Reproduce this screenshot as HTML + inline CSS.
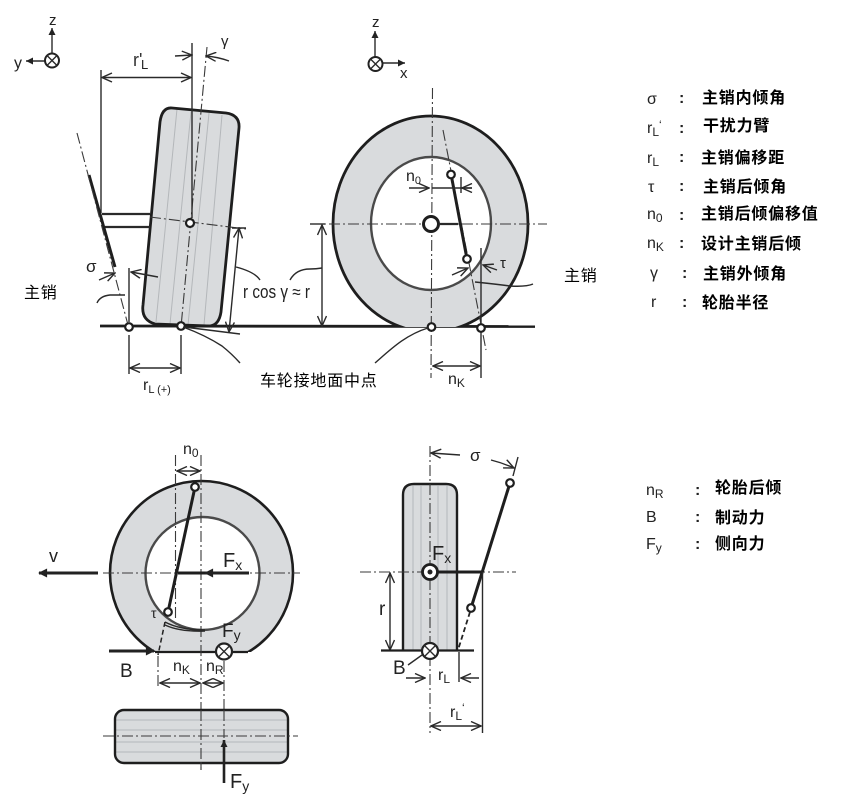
<!DOCTYPE html>
<html><head><meta charset="utf-8"><style>
html,body{margin:0;padding:0;background:#fff}
svg{display:block;filter:blur(0.35px)}
.d{fill:none;stroke:#2a2a2a;stroke-width:1.4}
.t{fill:none;stroke:#1e1e1e;stroke-width:3}
.m{fill:none;stroke:#2a2a2a;stroke-width:2.2}
.dd{fill:none;stroke:#3a3a3a;stroke-width:1.1;stroke-dasharray:11 3 2 3}
.g{fill:none;stroke:#b4b7ba;stroke-width:1}
.o{fill:#fff;stroke:#1e1e1e;stroke-width:2.2}
text{font-family:"Liberation Sans",sans-serif;fill:#222}
.c{font-family:"Liberation Sans","Noto Sans CJK SC",sans-serif;font-size:16px;letter-spacing:0.8px;fill:#000}
.b{font-family:"Liberation Sans","Noto Sans CJK SC",sans-serif;font-size:16px;letter-spacing:0.8px;font-weight:700;fill:#000}
.l{font-size:18px;fill:#333}
.s{font-size:12px}
</style></head><body>
<svg width="865" height="807" viewBox="0 0 865 807" xmlns="http://www.w3.org/2000/svg">
<defs>
<marker id="a" viewBox="0 0 10 10" refX="10" refY="5" markerWidth="12" markerHeight="10" markerUnits="userSpaceOnUse" orient="auto-start-reverse"><path d="M0 0.5L10 5L0 9.5" fill="none" stroke="#2a2a2a" stroke-width="1.4"/></marker>
<marker id="f" viewBox="0 0 10 10" refX="10" refY="5" markerWidth="7" markerHeight="7" markerUnits="userSpaceOnUse" orient="auto"><path d="M0 0L10 5L0 10Z" fill="#222"/></marker>
<marker id="h" viewBox="0 0 10 10" refX="9" refY="5" markerWidth="11" markerHeight="9" markerUnits="userSpaceOnUse" orient="auto"><path d="M0 0L10 5L0 10Z" fill="#222"/></marker>
<clipPath id="c1"><rect x="300" y="100" width="260" height="227"/></clipPath>
<clipPath id="c2"><rect x="90" y="470" width="230" height="182"/></clipPath>
</defs>

<!-- top-left axes -->
<line class="d" x1="52" y1="53" x2="52" y2="28" marker-end="url(#f)"/>
<line class="d" x1="45" y1="61" x2="26" y2="61" marker-end="url(#f)"/>
<circle cx="52" cy="60.500" r="7" fill="#fff" stroke="#222" stroke-width="2"/>
<path class="d" d="M47 55.500L57 65.500M57 55.500L47 65.500"/>
<text x="49" y="25" font-size="15">z</text>
<text x="14" y="68" font-size="16">y</text>

<!-- top-left tyre -->
<path d="M172 108L226 113Q240 115 239 128L221 312Q219 325 210 326L155 324Q141 320 143 305L160 122Q162 107 172 108Z" fill="#d9dbdd"/>
<path class="g" d="M177 109L156 322M191 112L170 324M209 113L188 325M222 115L204 325"/>
<path d="M172 108L226 113Q240 115 239 128L221 312Q219 325 210 326L155 324Q141 320 143 305L160 122Q162 107 172 108Z" fill="none" stroke="#1e1e1e" stroke-width="2.8"/>
<line class="dd" x1="207" y1="47" x2="181" y2="327"/>
<line class="dd" x1="150" y1="217" x2="246" y2="229"/>
<path class="d" d="M192 43V218M101 70V213"/>
<line class="d" x1="102" y1="77.500" x2="191" y2="77.500" marker-start="url(#a)" marker-end="url(#a)"/>
<line class="d" x1="175" y1="56" x2="192" y2="55" marker-end="url(#a)"/>
<path class="d" d="M229 61Q218 57 206 56" marker-end="url(#a)"/>
<text x="133" y="66" class="l">r'</text>
<text x="141" y="69" font-size="13" fill="#333">L</text>
<text x="221" y="46" font-size="15" fill="#333">γ</text>
<path class="m" d="M102 214H150M105 227H150"/>
<line class="t" x1="89" y1="175" x2="115" y2="267"/>
<line class="dd" x1="77" y1="133" x2="128" y2="325"/>
<line class="d" x1="129" y1="268" x2="129" y2="322"/>
<line class="d" x1="158" y1="277" x2="131" y2="272" marker-end="url(#a)"/>
<text x="86" y="272" font-size="17" fill="#333">σ</text>
<line class="d" x1="99" y1="280" x2="115" y2="273" marker-end="url(#a)"/>
<path class="d" d="M97 303Q100 296 110 295Q118 295 125 295"/>
<line x1="100" y1="326" x2="535" y2="326.500" stroke="#1e1e1e" stroke-width="2.800"/>
<circle cx="129" cy="327" r="3.800" class="o"/><circle cx="181" cy="326" r="3.800" class="o"/>
<circle cx="190" cy="223" r="4" class="o"/>
<path class="d" d="M129 335V374M181 335V374"/>
<line class="d" x1="130" y1="368" x2="180" y2="368" marker-start="url(#a)" marker-end="url(#a)"/>
<text x="143" y="390" font-size="16">r<tspan dy="3" font-size="11">L (+)</tspan></text>
<line class="d" x1="239" y1="228" x2="229" y2="332" marker-start="url(#a)" marker-end="url(#a)"/>
<path class="d" d="M184 327L240 334M232 228H246"/>
<path class="d" d="M236 267Q255 272 260 280M290 280Q296 269 310 269Q316 269 322 268M183 327Q205 335 222 346Q232 354 240 363"/>
<text x="243" y="298" font-size="18" textLength="67" lengthAdjust="spacingAndGlyphs" fill="#333">r cos γ ≈ r</text>

<!-- top-right axes -->
<line class="d" x1="375" y1="57" x2="375" y2="31" marker-end="url(#f)"/>
<line class="d" x1="383" y1="63" x2="405" y2="63" marker-end="url(#f)"/>
<circle cx="375.500" cy="64" r="7" fill="#fff" stroke="#222" stroke-width="2"/>
<path class="d" d="M370.500 59L380.500 69M380.500 59L370.500 69"/>
<text x="372" y="27" font-size="15">z</text>
<text x="400" y="78" font-size="15">x</text>

<!-- top-right wheel -->
<g clip-path="url(#c1)"><ellipse cx="430.500" cy="224" rx="97.500" ry="108" fill="#d9dbdd" stroke="#1e1e1e" stroke-width="2.8"/></g>
<ellipse cx="431" cy="223.500" rx="60" ry="66.500" fill="#fff" stroke="#4a4a4a" stroke-width="2.4"/>
<line class="dd" x1="432.500" y1="88" x2="431" y2="378"/>
<line class="dd" x1="310" y1="224" x2="547" y2="224"/>
<line class="dd" x1="443" y1="130" x2="486" y2="350"/>
<circle cx="431" cy="224" r="7.500" fill="#fff" stroke="#1e1e1e" stroke-width="3"/>
<path class="m" d="M439 224H458" stroke-width="2.400"/>
<line class="t" x1="451" y1="174" x2="467" y2="259"/>
<circle cx="451" cy="174.500" r="3.800" class="o"/><circle cx="467" cy="259" r="3.800" class="o"/>
<path class="d" d="M461 177V193"/>
<line class="d" x1="409" y1="188" x2="429" y2="188" marker-end="url(#a)"/>
<line class="d" x1="432" y1="188" x2="472" y2="188"/>
<line class="d" x1="472" y1="188" x2="462" y2="188" marker-end="url(#a)"/>
<text x="406" y="181" font-size="16" fill="#333">n<tspan dy="3" font-size="11">0</tspan></text>
<path class="d" d="M481 248V378"/>
<line class="d" x1="452" y1="275" x2="468" y2="268" marker-end="url(#a)"/>
<line class="d" x1="497" y1="270" x2="483" y2="265" marker-end="url(#a)"/>
<text x="500" y="268" font-size="15" fill="#333">τ</text>
<path class="d" d="M475 282Q495 284 510 286Q526 287 533 284"/>
<circle cx="431.500" cy="327" r="3.800" class="o"/><circle cx="481" cy="328" r="3.800" class="o"/>
<line class="d" x1="433" y1="366" x2="480" y2="366" marker-start="url(#a)" marker-end="url(#a)"/>
<text x="448" y="384" font-size="16" fill="#333">n<tspan dy="3" font-size="12">K</tspan></text>
<path class="d" d="M310 224H325"/>
<line class="d" x1="322" y1="225" x2="322" y2="326" marker-start="url(#a)" marker-end="url(#a)"/>
<path class="d" d="M428 328C405 335 390 350 375 363"/>

<!-- Chinese labels -->
<text x="24" y="298" class="c">主销</text>
<text x="564" y="281" class="c">主销</text>
<text x="260" y="386" class="c">车轮接地面中点</text>

<!-- legend top -->
<g font-size="16">
<text x="647" y="104" fill="#444">σ</text>
<text x="647" y="133" fill="#444">r<tspan dy="3" font-size="12">L</tspan><tspan dy="-7" font-size="12">‘</tspan></text>
<text x="647" y="163" fill="#444">r<tspan dy="3" font-size="12">L</tspan></text>
<text x="648" y="192" fill="#444">τ</text>
<text x="647" y="219" fill="#444">n<tspan dy="3" font-size="12">0</tspan></text>
<text x="647" y="248" fill="#444">n<tspan dy="3" font-size="12">K</tspan></text>
<text x="650" y="278" fill="#444">γ</text>
<text x="651" y="307" fill="#444">r</text>
<g fill="#444" font-weight="700">
<text x="679" y="103">:</text><text x="679" y="133">:</text><text x="679" y="162">:</text><text x="679" y="191">:</text><text x="679" y="220">:</text><text x="679" y="248">:</text><text x="682" y="278">:</text><text x="682" y="307">:</text>
</g>
</g>
<text x="702" y="103" class="b">主销内倾角</text>
<text x="703" y="131" class="b">干扰力臂</text>
<text x="701" y="163" class="b">主销偏移距</text>
<text x="703" y="192" class="b">主销后倾角</text>
<text x="701" y="219" class="b">主销后倾偏移值</text>
<text x="701" y="249" class="b">设计主销后倾</text>
<text x="703" y="279" class="b">主销外倾角</text>
<text x="702" y="308" class="b">轮胎半径</text>

<!-- bottom-left wheel -->
<g clip-path="url(#c2)"><ellipse cx="201.500" cy="573" rx="91.500" ry="92" fill="#d9dbdd" stroke="#1e1e1e" stroke-width="2.6"/></g>
<line x1="155" y1="652" x2="248" y2="652" stroke="#1e1e1e" stroke-width="2.200"/>
<ellipse cx="202.500" cy="573.500" rx="57" ry="56.500" fill="#fff" stroke="#4a4a4a" stroke-width="2.400"/>
<line class="dd" x1="175.500" y1="455" x2="175.500" y2="620"/>
<line class="dd" x1="201" y1="455" x2="201" y2="770"/>
<line class="dd" x1="103" y1="573" x2="300" y2="573"/>
<line class="d" x1="177" y1="471" x2="200" y2="471" marker-start="url(#a)" marker-end="url(#a)"/>
<text x="183" y="454" font-size="16" fill="#333">n<tspan dy="3" font-size="12">0</tspan></text>
<line class="t" x1="195" y1="487" x2="168" y2="612"/>
<circle cx="195" cy="487" r="3.800" class="o"/><circle cx="168" cy="612" r="3.800" class="o"/>
<path class="t" d="M178 573H205"/>
<line x1="249" y1="573" x2="205" y2="573" stroke="#222" stroke-width="3" marker-end="url(#h)"/>
<line x1="98" y1="573" x2="39" y2="573" stroke="#222" stroke-width="3" marker-end="url(#h)"/>
<text x="49" y="562" font-size="18" fill="#333">v</text>
<text x="223" y="567" font-size="20" fill="#333">F<tspan dy="3" font-size="14">x</tspan></text>
<text x="151" y="618" font-size="14" fill="#333">τ</text>
<path class="d" d="M165 622Q180 630 205 630M165 625Q180 632 205 631"/>
<line x1="165" y1="622" x2="158" y2="655" stroke="#222" stroke-width="1.5" stroke-dasharray="5 3"/>
<line class="dd" x1="158" y1="656" x2="158" y2="687"/>
<line x1="109" y1="651" x2="154" y2="651" stroke="#222" stroke-width="3" marker-end="url(#h)"/>
<text x="120" y="677" font-size="19" fill="#333">B</text>
<circle cx="224" cy="651.500" r="8" fill="#fff" stroke="#222" stroke-width="2.2"/>
<path class="d" d="M218.500 646L229.500 657M229.500 646L218.500 657"/>
<text x="222" y="637" font-size="19" fill="#333">F<tspan dy="3" font-size="14">y</tspan></text>
<line class="dd" x1="224" y1="661" x2="224" y2="740"/>
<line class="d" x1="160" y1="683" x2="200" y2="683" marker-start="url(#a)" marker-end="url(#a)"/>
<line class="d" x1="203" y1="683" x2="223" y2="683" marker-start="url(#a)" marker-end="url(#a)"/>
<text x="173" y="671" font-size="16" fill="#333">n<tspan dy="3" font-size="12">K</tspan></text>
<text x="206" y="671" font-size="16" fill="#333">n<tspan dy="3" font-size="12">R</tspan></text>

<!-- lower tyre -->
<rect x="115" y="710" width="173" height="53" rx="9" fill="#d9dbdd"/>
<path class="g" d="M116 720H287M116 730H287M116 742H287M116 752H287"/>
<rect x="115" y="710" width="173" height="53" rx="9" fill="none" stroke="#1e1e1e" stroke-width="2.4"/>
<line class="dd" x1="103" y1="736" x2="298" y2="736"/>
<line x1="201" y1="710" x2="201" y2="770" class="dd"/>
<line class="dd" x1="224" y1="710" x2="224" y2="738"/>
<line x1="224" y1="783" x2="224" y2="740" stroke="#222" stroke-width="2.6" marker-end="url(#f)"/>
<text x="230" y="788" font-size="20" fill="#333">F<tspan dy="3" font-size="14">y</tspan></text>

<!-- bottom-right tyre -->
<path d="M403 650V495Q403 484 414 484H446Q457 484 457 495V650Z" fill="#d9dbdd"/>
<path class="g" d="M413 486V650M421 486V650M438 486V650M447 486V650"/>
<path d="M403 650V495Q403 484 414 484H446Q457 484 457 495V650" fill="none" stroke="#1e1e1e" stroke-width="2.400"/>
<line class="dd" x1="430" y1="446" x2="430" y2="733"/>
<line class="dd" x1="360" y1="572" x2="516" y2="572"/>
<circle cx="430" cy="572" r="7.500" fill="#fff" stroke="#1e1e1e" stroke-width="2.800"/>
<circle cx="430" cy="572" r="2.500" fill="#222"/>
<path class="t" d="M438 572H482"/>
<line class="t" x1="510" y1="483" x2="471" y2="608"/>
<circle cx="510" cy="483" r="3.800" class="o"/><circle cx="471" cy="608" r="3.800" class="o"/>
<line x1="470" y1="612" x2="458" y2="650" stroke="#222" stroke-width="1.800" stroke-dasharray="5 3"/>
<line class="d" x1="513" y1="476" x2="518" y2="457"/>
<line class="d" x1="460" y1="455" x2="431" y2="453" marker-end="url(#a)"/>
<path class="d" d="M491 460Q503 463 514 468" marker-end="url(#a)"/>
<text x="470" y="461" font-size="17" fill="#333">σ</text>
<line class="d" x1="390" y1="573" x2="390" y2="650" marker-start="url(#a)" marker-end="url(#a)"/>
<text x="379" y="615" font-size="19" fill="#333">r</text>
<line x1="381" y1="650.500" x2="474" y2="650.500" stroke="#1e1e1e" stroke-width="2.200"/>
<circle cx="430" cy="651" r="8" fill="#fff" stroke="#222" stroke-width="2.200"/>
<path class="d" d="M424.500 645.500L435.500 656.500M435.500 645.500L424.500 656.500"/>
<text x="393" y="674" font-size="19" fill="#333">B</text>
<line class="d" x1="408" y1="665" x2="422" y2="655"/>
<path class="d" d="M459 652V682"/>
<line class="d" x1="406" y1="678" x2="425" y2="678" marker-end="url(#a)"/>
<line class="d" x1="479" y1="678" x2="461" y2="678" marker-end="url(#a)"/>
<text x="438" y="680" font-size="16" fill="#333">r<tspan dy="3" font-size="12">L</tspan></text>
<path class="d" d="M482.500 572V733" stroke-width="1.800"/>
<line class="d" x1="431" y1="726" x2="481" y2="726" marker-start="url(#a)" marker-end="url(#a)"/>
<text x="450" y="717" font-size="16" fill="#333">r<tspan dy="3" font-size="12">L</tspan><tspan dy="-8" font-size="12">‘</tspan></text>
<text x="432" y="560" font-size="20" fill="#333">F<tspan dy="3" font-size="14">x</tspan></text>

<!-- legend bottom -->
<g font-size="16" fill="#444">
<text x="646" y="495" fill="#444">n<tspan dy="3" font-size="12">R</tspan></text>
<text x="646" y="522" fill="#444">B</text>
<text x="646" y="549" fill="#444">F<tspan dy="3" font-size="12">y</tspan></text>
<text x="695" y="495" font-weight="700" fill="#444">:</text>
<text x="695" y="522" font-weight="700" fill="#444">:</text>
<text x="695" y="549" font-weight="700" fill="#444">:</text>
</g>
<text x="715" y="493" class="b">轮胎后倾</text>
<text x="715" y="523" class="b">制动力</text>
<text x="715" y="549" class="b">侧向力</text>
</svg>
</body></html>
